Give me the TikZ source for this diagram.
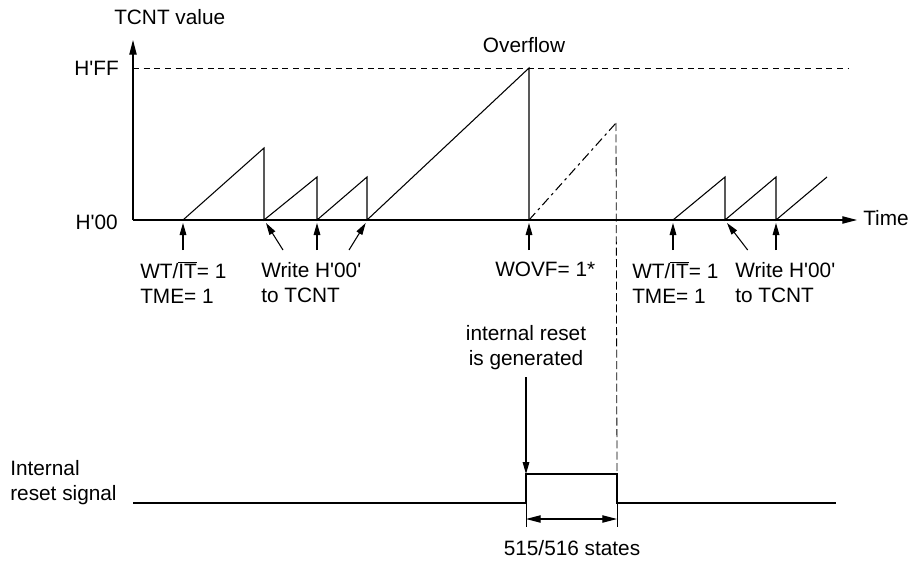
\documentclass[tikz,border=0pt]{standalone}
\usepackage{fontspec}
\setmainfont{Liberation Sans}
\usetikzlibrary{arrows.meta, positioning}

% bar over a signal name, drawn just above the capitals
\newcommand{\negbar}[1]{\setbox0\hbox{#1}\rlap{\rule[\dimexpr\ht0+0.6pt\relax]{\wd0}{0.8pt}}\box0}
\newcommand{\hx}{H\textquotesingle}

\begin{document}
\begin{tikzpicture}[
        x=0.75pt, y=-0.75pt,
        every node/.style={font=\fontsize{15.6}{18.75}\selectfont, inner sep=0pt},
        trace/.style   ={line width=0.8pt, line join=miter},
        axis/.style    ={line width=0.8pt, -{Triangle[length=11pt, width=5.5pt]}},
        pointer/.style ={line width=0.8pt, -{Triangle[length=9pt, width=5pt]}},
        span/.style    ={line width=0.8pt, {Triangle[length=11pt, width=5.5pt]}-{Triangle[length=11pt, width=5.5pt]}},
        maxline/.style ={line width=0.6pt, dash pattern=on 4.5pt off 3.5pt},
        ghost/.style   ={line width=0.8pt, dash pattern=on 7pt off 3pt on 2pt off 3pt},
        marker/.style  ={line width=0.6pt, dash pattern=on 6pt off 2.5pt},
        note/.style    ={align=left, anchor=north west}
    ]
    \useasboundingbox (0,0) rectangle (916,563);

    % axes
    \coordinate (origin) at (133,220);
    \coordinate (ytop)   at (133,40);
    \coordinate (tend)   at (857,220);
    \draw[axis] (origin) -- (ytop);
    \draw[axis] (origin) -- (tend);
    \node[anchor=west] (yname) at (114,17)  {TCNT value};
    \node[anchor=west] (tname) at (863,218) {Time};
    \node[anchor=east] (hff)   at (119,68)  {\hx FF};
    \node[anchor=east] (hzero) at (118,222) {\hx 00};
    \draw[maxline] (hff.east -| origin) -- (848,68);
    \node (ovf) at (524,45) {Overflow};

    % counter value
    \coordinate (w1)  at (183,220);
    \coordinate (c1)  at (264,220);
    \coordinate (c2)  at (317,220);
    \coordinate (c3)  at (367,220);
    \coordinate (of)  at (529,220);
    \coordinate (rst) at (616,123);
    \coordinate (w2)  at (673,220);
    \coordinate (c4)  at (725,220);
    \coordinate (c5)  at (776,220);
    \draw[trace] (w1) -- (264,148) -- (c1) -- (317,177) -- (c2) -- (367,177)
                 -- (c3) -- (529,68) -- (of);
    \draw[ghost] (of) -- (rst);
    \draw[trace] (w2) -- (725,177) -- (c4) -- (776,177) -- (c5) -- (827,177);

    % events
    \draw[pointer] ([yshift=-22.5pt]w1) -- ([yshift=-2.25pt]w1);
    \draw[pointer] ([xshift=14.25pt, yshift=-22.5pt]c1) -- ([xshift=1.5pt, yshift=-2.25pt]c1);
    \draw[pointer] ([yshift=-22.5pt]c2) -- ([yshift=-2.25pt]c2);
    \draw[pointer] ([xshift=-13.5pt, yshift=-22.5pt]c3) -- ([xshift=-1pt, yshift=-2.25pt]c3);
    \draw[pointer] ([yshift=-22.5pt]of) -- ([yshift=-2.25pt]of);
    \draw[pointer] ([yshift=-22.5pt]w2) -- ([yshift=-2.25pt]w2);
    \draw[pointer] ([xshift=17pt, yshift=-22.5pt]c4) -- ([xshift=1.5pt, yshift=-2.25pt]c4);
    \draw[pointer] ([yshift=-22.5pt]c5) -- ([yshift=-2.25pt]c5);

    \node[note] (set1)   at (140,262) {WT/\negbar{IT}= 1\\TME= 1};
    \node[note] (clr1)   at (261,262) {Write \hx 00\textquotesingle\\to TCNT};
    \node[anchor=west] (flag) at (495,269) {WOVF= 1*};
    \node[note] (set2)   at (632,262) {WT/\negbar{IT}= 1\\TME= 1};
    \node[note] (clr2)   at (735,262) {Write \hx 00\textquotesingle\\to TCNT};

    % internal reset
    \coordinate (up)   at (526,474);
    \coordinate (down) at (617,474);
    \node[align=center, anchor=north] (rstnote) at (526,325) {internal reset\\is generated};
    \node[note] (sig) at (10,460) {Internal\\reset signal};
    \draw[trace] (133,503) -- (up |- 0,503) -- (up) -- (down) -- (down |- 0,503) -- (836,503);
    \draw[marker] (rst) -- (down);
    \draw[pointer] (526,377) -- (up);

    % pulse width
    \draw[line width=0.6pt] (up |- 0,503) -- (526,527);
    \draw[line width=0.6pt] (down |- 0,503) -- (617,527);
    \draw[span] (526,519) -- (617,519);
    \node (width) at (572,548) {515/516 states};
\end{tikzpicture}
\end{document}
